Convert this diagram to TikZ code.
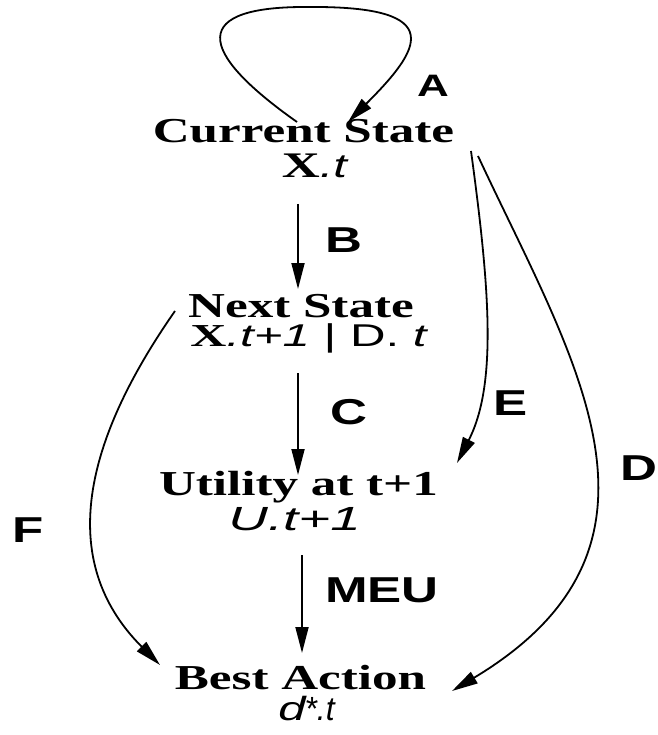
\documentclass[tikz,border=0pt]{standalone}
\usepackage{fontspec}
\usepackage{graphicx}
\usetikzlibrary{arrows.meta}
\newfontfamily\serifB[FakeStretch=1.46]{Liberation Serif}
\newfontfamily\sansI[FakeStretch=1.46]{Liberation Sans}
\newfontfamily\sansL[FakeStretch=1.42]{Liberation Sans}
\newcommand\bigX[1]{{\serifB\bfseries\upshape\fontsize{#1}{40}\selectfont X}}
\begin{document}
\begin{tikzpicture}[x=1pt,y=-1pt,
  title/.style={inner sep=0pt, anchor=base, text depth=0pt, font=\serifB\bfseries\fontsize{35}{40}\selectfont},
  var/.style={inner sep=0pt, anchor=base, text height=21pt, text depth=6pt, font=\sansI\fontsize{33.5}{38}\selectfont},
  lab/.style={inner sep=0pt, font=\sansL\bfseries\fontsize{36}{40}\selectfont},
  conn/.style={line width=1.8pt, -{Triangle[length=26pt,width=13pt]}}]
\useasboundingbox (0,0) rectangle (657,735);
% state texts
\node[title] (cur) at (303.5,143) {Current State};
\node[var] (curv) at (314.5,178) {\bigX{36}{\itshape .t}};
\node[title] (nxt) at (301,317) {Next State};
\node[var, font=\sansI\fontsize{31.5}{36}\selectfont] (nxtv) at (308.5,346) {\scalebox{1.07}[1]{\bigX{32}{\itshape .t+1} | D. {\itshape t}}};
\node[title] (utl) at (298.5,495) {Utility at t+1};
\node[var] (utlv) at (294.5,530) {\itshape\scalebox{1.12}[1]{U.t+1}};
\node[title] (best) at (300.5,689) {Best Action};
\node[var] (bestv) at (306.5,720) {\itshape d\kern-1pt\scalebox{0.65}[1]{*.t}};
% edge labels
\node[lab] (la) at (433,86) {\fontsize{31}{35}\selectfont A};
\node[lab] (lb) at (344,240) {B};
\node[lab] (lc) at (349,412) {C};
\node[lab] (le) at (511,403) {E};
\node[lab] (ld) at (639,468) {D};
\node[lab] (lf) at (28,530) {F};
\node[lab] (lm) at (382,590) {MEU};
% connector ends
\coordinate (a0) at (297,122);
\coordinate (a1) at (348,122);
\coordinate (b0) at (298,204);
\coordinate (b1) at (298,289);
\coordinate (c0) at (298,373);
\coordinate (c1) at (298,475);
\coordinate (m0) at (302,555);
\coordinate (m1) at (302,653);
\coordinate (e0) at (471,151);
\coordinate (e1) at (457,463);
\coordinate (d0) at (478,156);
\coordinate (d1) at (452,691);
\coordinate (f0) at (175,311);
\coordinate (f1) at (160,665);
% connectors
\draw[conn] (a0) .. controls (195,50) and (190,6) .. (309,7) .. controls (450,6) and (420,50) .. (a1);
\draw[conn] (b0) -- (b1);
\draw[conn] (c0) -- (c1);
\draw[conn] (m0) -- (m1);
\draw[conn] (e0) .. controls (490,290) and (497,385) .. (e1);
\draw[conn] (d0) .. controls (573,360) and (695,545) .. (d1);
\draw[conn] (f0) .. controls (85,440) and (55,560) .. (f1);
\end{tikzpicture}
\end{document}
